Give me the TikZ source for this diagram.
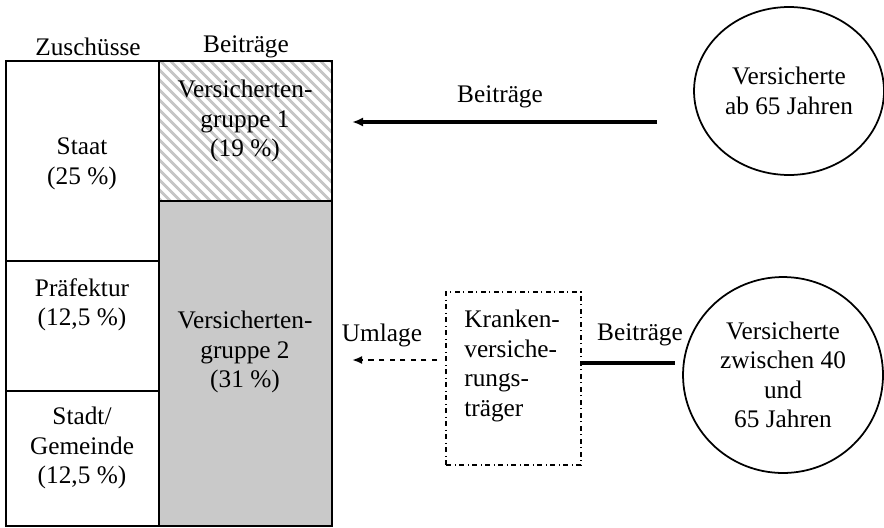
\documentclass[tikz,border=0pt]{standalone}
\usepackage{fontspec}
\setmainfont{Liberation Serif}
\usetikzlibrary{positioning,patterns.meta,arrows.meta,shapes.geometric}

\begin{document}
\begin{tikzpicture}[x=0.02cm,y=-0.02cm]
	\tikzset{
		txt/.style={font=\fontsize{14.4}{16.8}\selectfont, align=center, inner sep=0pt},
		zbox/.style={draw=black, line width=1.5pt, minimum width=3.06cm, inner sep=0pt},
		gbox/.style={draw=black, line width=1.1pt, minimum width=3.46cm, inner sep=0pt},
		kbox/.style={draw=black, dash dot, line width=0.8pt, minimum width=2.7cm,
			minimum height=3.46cm, inner sep=0pt},
		pers/.style={ellipse, draw=black, line width=1pt, inner sep=0pt,
			font=\fontsize{14.4}{16.8}\selectfont, align=center},
		flow/.style={-{Latex[length=2.2mm,width=1.8mm]}, draw=black, line width=2pt},
		umlg/.style={-{Latex[length=2mm,width=1.6mm]}, draw=black, dashed, line width=1.2pt}
	}
	\useasboundingbox (0,0) rectangle (884,527);
	
	% ZUSCHUESSE
	\node[txt] (hz) at (88,47) {Zuschüsse};
	\node[zbox, minimum height=4cm] (staat) at (82.5,161) {};
	\node[zbox, minimum height=2.6cm] (praef) at (82.5,326) {};
	\node[zbox, minimum height=2.7cm] (stadt) at (82.5,458.5) {};
	\node[txt] (tstaat) at (82,164) {Staat\\(25 \%)};
	\node[txt] (tpraef) at (82,305) {Präfektur\\(12,5 \%)};
	\node[txt] (tstadt) at (82,448) {Stadt/\\Gemeinde\\(12,5 \%)};
	
	% BEITRAEGE
	\node[txt] (hb) at (246,47) {Beiträge};
	\node[gbox, minimum height=2.8cm,
		pattern={Lines[angle=-45,distance=4pt,line width=1.7pt]},
		pattern color=gray!45] (grp1) at (245.5,131) {};
	\node[gbox, minimum height=6.5cm, fill=gray!42] (grp2) at (245.5,363.5) {};
	\node[txt] (tgrp1) at (245,121) {Versicherten-\\gruppe 1\\(19 \%)};
	\node[txt] (tgrp2) at (245,352) {Versicherten-\\gruppe 2\\(31 \%)};
	
	% VERSICHERTE
	\node[pers, minimum width=3.8cm, minimum height=3.36cm] (alt) at (789,91)
		{Versicherte\\ab 65 Jahren};
	\node[pers, minimum width=4cm, minimum height=3.92cm] (mitte) at (783,375)
		{Versicherte\\zwischen 40\\und\\65 Jahren};
	
	% TRAEGER
	\node[kbox] (kv) at (513.5,378.5) {};
	\node[txt, align=left, anchor=west] (tkv) at (464,366)
		{Kranken-\\versiche-\\rungs-\\träger};
	
	% FLUESSE
	\coordinate (b1s) at (657,122);
	\coordinate (b1e) at (352,122);
	\draw[flow] (b1s) -- (b1e);
	\node[txt] (lb1) at (500,97) {Beiträge};
	
	\coordinate (b2s) at (675,363);
	\draw[line width=2pt] (kv.east |- b2s) -- (b2s);
	\node[txt] (lb2) at (640,335) {Beiträge};
	
	\coordinate (us) at (437,360);
	\coordinate (ue) at (352,360);
	\draw[umlg] (us) -- (ue);
	\node[txt] (lu) at (382,335) {Umlage};
\end{tikzpicture}
\end{document}
